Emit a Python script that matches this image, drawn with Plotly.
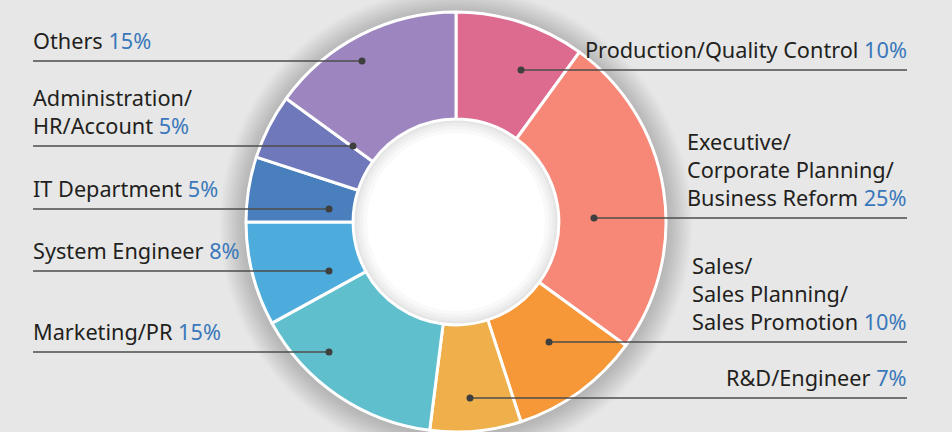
import plotly.graph_objects as go

# ---- data ----
categories = [
    "Production/Quality Control",
    "Executive/<br>Corporate Planning/<br>Business Reform",
    "Sales/<br>Sales Planning/<br>Sales Promotion",
    "R&D/Engineer",
    "Marketing/PR",
    "System Engineer",
    "IT Department",
    "Administration/<br>HR/Account",
    "Others",
]
values = [10, 25, 10, 7, 15, 8, 5, 5, 15]
slice_colors = ["#dc6b8f", "#f78776", "#f69738", "#efb04c", "#5fbfcc",
                "#4dacdc", "#4a7fbd", "#6f78bb", "#9d86bf"]

# ---- layout (pixel geometry of the figure) ----
W, H = 952, 432
CX, CY = 456, 222        # donut centre in px
R = 210                   # outer radius in px
HOLE = 0.49

# callout layout: side, underline y, dot x (px)
callouts = [
    ("right", 70, 521),
    ("right", 218, 594),
    ("right", 342, 549),
    ("right", 398, 470),
    ("left", 352, 329),
    ("left", 271, 329),
    ("left", 209, 329),
    ("left", 146, 353),
    ("left", 61, 362),
]
LEFT_X, RIGHT_X = 33, 907
FONT = "Noto Sans"
FSIZE = 21.7


def px(x):
    return x / W


def py(y):
    return 1 - y / H


fig = go.Figure()
fig.add_trace(go.Pie(
    labels=[c.replace("<br>", " ") for c in categories],
    values=values,
    sort=False,
    direction="clockwise",
    rotation=0,
    hole=HOLE,
    marker=dict(colors=slice_colors, line=dict(color="white", width=3)),
    textinfo="none",
    hoverinfo="label+percent",
    showlegend=False,
    domain=dict(x=[px(CX - 230), px(CX + 230)], y=[0, py(CY - R)]),
))

shapes = []
# soft drop shadow around the donut
for i in range(13, 0, -1):
    rr = R + 2 * i
    shapes.append(dict(type="circle", xref="paper", yref="paper",
                       xsizemode="pixel", ysizemode="pixel",
                       xanchor=px(CX), yanchor=py(CY + 2),
                       x0=-rr, x1=rr, y0=-rr, y1=rr,
                       fillcolor="rgba(0,0,0,0.017)", line=dict(width=0),
                       layer="below"))
# white hole with inner shading
hole_r = R * HOLE
for dr, col in [(0, "#dedede"), (2, "#e6e6e6"), (4, "#ededed"), (7, "#f3f3f3"),
                (10, "#f9f9f9"), (14, "#ffffff")]:
    rr = hole_r - dr
    shapes.append(dict(type="circle", xref="paper", yref="paper",
                       xsizemode="pixel", ysizemode="pixel",
                       xanchor=px(CX), yanchor=py(CY),
                       x0=-rr, x1=rr, y0=-rr, y1=rr,
                       fillcolor=col, line=dict(width=0), layer="below"))

annotations = []
for cat, val, (side, ly, dx) in zip(categories, values, callouts):
    if side == "left":
        x0, x1 = LEFT_X, dx
        ax, anchor = LEFT_X - 2, "left"
    else:
        x0, x1 = dx, RIGHT_X
        ax, anchor = RIGHT_X + 2, "right"
    shapes.append(dict(type="line", xref="paper", yref="paper",
                       x0=px(x0), x1=px(x1), y0=py(ly), y1=py(ly),
                       line=dict(color="#4d4d4d", width=1.6), layer="above"))
    shapes.append(dict(type="circle", xref="paper", yref="paper",
                       xsizemode="pixel", ysizemode="pixel",
                       xanchor=px(dx), yanchor=py(ly),
                       x0=-3.5, x1=3.5, y0=-3.5, y1=3.5,
                       fillcolor="#3f3f3f", line=dict(width=0), layer="above"))
    annotations.append(dict(
        xref="paper", yref="paper", x=px(ax), y=py(ly - 4),
        xanchor=anchor, yanchor="bottom", align="left", showarrow=False,
        text=f"{cat} <span style='color:#3a78bb'>{val}%</span>",
        font=dict(family=FONT, size=FSIZE, color="#231f20"),
    ))

fig.update_layout(
    width=W, height=H,
    margin=dict(l=0, r=0, t=0, b=0),
    paper_bgcolor="#e7e7e7",
    plot_bgcolor="#e7e7e7",
    shapes=shapes,
    annotations=annotations,
)

fig.write_html("out.html", config={"displayModeBar": False},
               post_script="document.body.style.margin='0';"
                           "document.body.style.background='#e7e7e7';")
